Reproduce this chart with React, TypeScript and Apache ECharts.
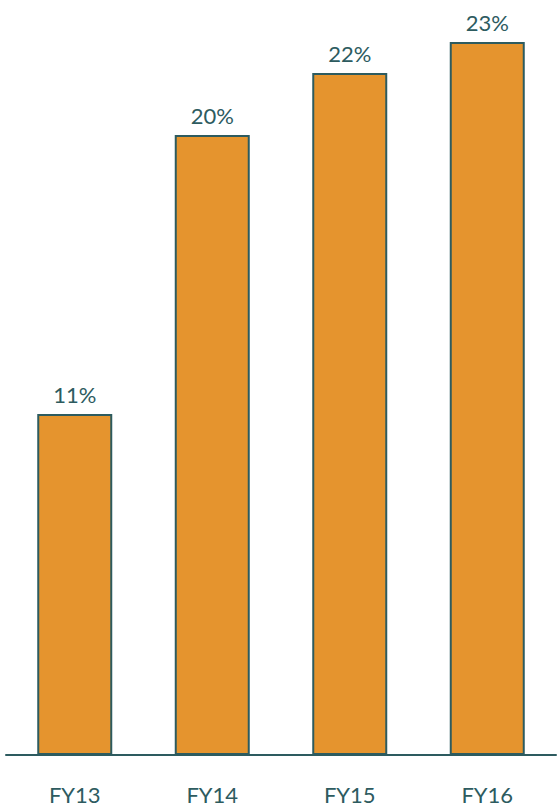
import React, { useEffect, useRef } from "react";
import * as echarts from "echarts";

const categories = ["FY13", "FY14", "FY15", "FY16"];
const values = [11, 20, 22, 23];

export default function App() {
  const ref = useRef<HTMLDivElement>(null);
  useEffect(() => {
    const chart = echarts.init(ref.current!, null, { renderer: "svg" });
    chart.setOption({
      animation: false,
      grid: { left: 6, right: 3, top: 0, bottom: 55 },
      xAxis: {
        type: "category",
        data: categories,
        axisLine: { lineStyle: { color: "#2d5b5f", width: 2 } },
        axisTick: { show: false },
        axisLabel: {
          color: "#2d5b5f",
          fontSize: 22,
          fontFamily: "Lato",
          margin: 28,
        },
      },
      yAxis: {
        type: "value",
        min: 0,
        max: 24.355,
        show: false,
        splitLine: { show: false },
      },
      series: [
        {
          type: "bar",
          data: values,
          barWidth: 75,
          itemStyle: { color: "#E5942E", borderColor: "#2d5b5f", borderWidth: 2 },
          label: {
            show: true,
            position: "top",
            distance: 9,
            formatter: "{c}%",
            color: "#2d5b5f",
            fontSize: 22,
            fontFamily: "Lato",
          },
        },
      ],
    });
    return () => chart.dispose();
  }, []);
  return (
    <div
      ref={ref}
      style={{ position: "fixed", left: 0, top: 0, width: 559, height: 810, background: "#fff" }}
    />
  );
}
